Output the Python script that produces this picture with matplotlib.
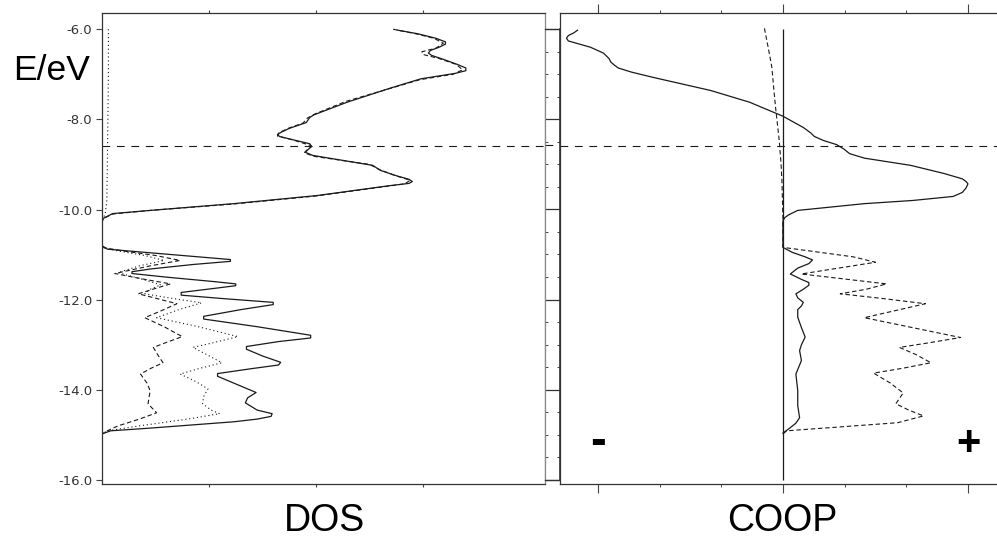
import matplotlib.pyplot as plt
from matplotlib.ticker import FixedLocator, MultipleLocator, NullFormatter

# energies (eV) and DOS / COOP values
fermi = -8.58

dos_tot_E = [-6.02, -6.10, -6.20, -6.28, -6.33, -6.40, -6.47, -6.53, -6.58, -6.66, -6.78, -6.86,
             -6.92, -6.98, -7.10, -7.31, -7.62, -7.90, -7.96, -8.07, -8.20, -8.29, -8.34, -8.38,
             -8.45, -8.54, -8.60, -8.66, -8.73, -8.80, -9.02, -9.13, -9.25, -9.33, -9.38, -9.42,
             -9.47, -9.69, -9.87, -10.02, -10.09, -10.20, -10.30, -10.80, -10.88, -10.95, -11.05,
             -11.11, -11.15, -11.22, -11.32, -11.38, -11.42, -11.50, -11.60, -11.65, -11.69, -11.75,
             -11.84, -11.90, -11.98, -12.06, -12.11, -12.22, -12.37, -12.43, -12.60, -12.79, -12.85,
             -12.93, -13.04, -13.10, -13.25, -13.39, -13.45, -13.53, -13.64, -13.70, -13.80, -13.91,
             -14.06, -14.18, -14.29, -14.45, -14.53, -14.59, -14.65, -14.71, -14.85, -14.91, -14.98,
             -15.05]
dos_tot = [2.76, 2.95, 3.12, 3.21, 3.21, 3.15, 3.07, 3.05, 3.08, 3.18, 3.32, 3.40,
           3.40, 3.30, 2.98, 2.69, 2.29, 1.98, 1.94, 1.91, 1.75, 1.67, 1.64, 1.66,
           1.78, 1.94, 1.96, 1.93, 1.90, 1.97, 2.53, 2.60, 2.75, 2.87, 2.90, 2.87,
           2.69, 2.01, 1.23, 0.45, 0.10, 0.01, 0.0, 0.0, 0.05, 0.40, 0.90,
           1.20, 1.20, 0.85, 0.45, 0.28, 0.28, 0.60, 1.05, 1.25, 1.25, 1.05,
           0.74, 0.74, 1.15, 1.60, 1.60, 1.30, 0.95, 0.95, 1.45, 1.95, 1.95,
           1.65, 1.35, 1.35, 1.50, 1.67, 1.65, 1.40, 1.08, 1.08, 1.18, 1.29,
           1.44, 1.36, 1.34, 1.45, 1.59, 1.58, 1.45, 1.23, 0.45, 0.08, 0.0,
           0.0]

dos_a_E = [-6.00, -6.10, -6.20, -6.31, -6.42, -6.50, -6.56, -6.65, -6.78, -6.90, -7.00, -7.12,
           -7.33, -7.60, -7.88, -7.97, -8.08, -8.20, -8.30, -8.37, -8.46, -8.58, -8.67, -8.74,
           -8.82, -9.00, -9.12, -9.24, -9.35, -9.43, -9.48, -9.70, -9.88, -10.02, -10.10, -10.20,
           -10.30, -10.84, -10.92, -11.02, -11.13, -11.25, -11.42, -11.55, -11.65, -11.75, -11.87,
           -11.98, -12.09, -12.25, -12.40, -12.60, -12.82, -12.95, -13.06, -13.22, -13.40, -13.52,
           -13.65, -13.85, -14.02, -14.31, -14.51, -14.65, -14.80, -14.91, -14.98]
dos_a = [2.72, 2.93, 3.10, 3.19, 3.12, 2.99, 3.00, 3.15, 3.31, 3.37, 3.28, 2.97,
         2.67, 2.28, 1.99, 1.92, 1.88, 1.74, 1.65, 1.64, 1.79, 1.95, 1.92, 1.89,
         1.98, 2.50, 2.60, 2.73, 2.88, 2.83, 2.68, 2.00, 1.22, 0.45, 0.10, 0.01,
         0.0, 0.0, 0.20, 0.50, 0.73, 0.45, 0.12, 0.40, 0.64, 0.50, 0.34,
         0.52, 0.70, 0.55, 0.40, 0.58, 0.75, 0.60, 0.48, 0.52, 0.57, 0.46,
         0.36, 0.42, 0.45, 0.43, 0.51, 0.35, 0.15, 0.05, 0.0]

dos_b_E = [-6.00, -7.00, -8.00, -9.00, -9.80, -10.10, -10.25, -10.84, -10.92, -11.02, -11.13,
           -11.25, -11.40, -11.55, -11.67, -11.77, -11.87, -11.97, -12.07, -12.22, -12.40, -12.60,
           -12.82, -12.95, -13.06, -13.22, -13.40, -13.52, -13.65, -13.82, -13.98, -14.15, -14.31,
           -14.45, -14.53, -14.65, -14.80, -14.91, -14.98]
dos_b = [0.06, 0.06, 0.055, 0.05, 0.045, 0.03, 0.0, 0.0, 0.15, 0.40, 0.58,
         0.35, 0.15, 0.38, 0.55, 0.45, 0.40, 0.65, 0.93, 0.72, 0.51, 0.90,
         1.27, 1.05, 0.85, 0.98, 1.12, 0.92, 0.73, 0.88, 0.99, 0.95, 0.94,
         1.02, 1.10, 0.80, 0.35, 0.05, 0.0]

coop_tot_E = [-6.02, -6.08, -6.14, -6.20, -6.26, -6.33, -6.40, -6.53, -6.65, -6.73, -6.80, -6.86,
              -6.95, -7.07, -7.36, -7.62, -7.93, -8.18, -8.30, -8.38, -8.47, -8.56, -8.66, -8.76,
              -8.86, -9.02, -9.20, -9.32, -9.38, -9.43, -9.52, -9.62, -9.71, -9.80, -9.87, -10.02,
              -10.12, -10.18, -10.25, -10.84, -10.95, -11.05, -11.12, -11.20, -11.30, -11.43, -11.55,
              -11.62, -11.68, -11.77, -11.87, -11.96, -12.06, -12.14, -12.22, -12.39, -12.62, -12.83,
              -13.00, -13.13, -13.35, -13.65, -14.02, -14.35, -14.62, -14.74, -14.84, -14.96]
coop_tot = [-1.11, -1.13, -1.16, -1.17, -1.16, -1.10, -1.04, -0.97, -0.94, -0.93, -0.91, -0.89,
            -0.82, -0.70, -0.39, -0.18, 0.0, 0.11, 0.15, 0.17, 0.22, 0.29, 0.33, 0.36,
            0.44, 0.69, 0.87, 0.97, 0.99, 1.0, 0.99, 0.97, 0.92, 0.70, 0.44, 0.08,
            0.03, 0.01, 0.0, 0.0, 0.05, 0.12, 0.16, 0.14, 0.08, 0.04, 0.10,
            0.14, 0.14, 0.11, 0.07, 0.08, 0.11, 0.10, 0.08, 0.08, 0.10, 0.12,
            0.10, 0.09, 0.10, 0.07, 0.08, 0.08, 0.09, 0.07, 0.04, 0.0]

coop_a_E = [-5.98, -6.40, -6.84, -7.30, -7.73, -8.10, -8.47, -9.00, -9.42, -10.20, -10.84, -10.95,
            -11.05, -11.17, -11.30, -11.43, -11.55, -11.65, -11.77, -11.87, -11.98, -12.09, -12.25,
            -12.40, -12.62, -12.84, -12.95, -13.06, -13.22, -13.40, -13.52, -13.63, -13.85, -14.07,
            -14.31, -14.45, -14.58, -14.73, -14.91, -14.98]
coop_a = [-0.10, -0.08, -0.06, -0.05, -0.04, -0.03, -0.02, -0.01, -0.005, 0.0, 0.0, 0.20,
          0.38, 0.50, 0.30, 0.10, 0.35, 0.56, 0.45, 0.31, 0.55, 0.77, 0.60,
          0.44, 0.70, 0.96, 0.80, 0.63, 0.72, 0.80, 0.65, 0.49, 0.58, 0.65,
          0.61, 0.68, 0.76, 0.62, 0.02, 0.0]

ytick_vals = [-16, -14, -12, -10, -8, -6]
ytick_labels = ['-16.0', '-14.0', '-12.0', '-10.0', '-8.0', '-6.0']

W, H = 997, 539
fig = plt.figure(figsize=(W / 100, H / 100), dpi=100)

def box(x0, y0, x1, y1):
    return [x0 / W, 1 - y1 / H, (x1 - x0) / W, (y1 - y0) / H]

ink = '#1a1a1a'
ylim = (-16.09, -5.64)

# ---- DOS panel
ax1 = fig.add_axes(box(102, 13, 545, 484))
ax1.plot(dos_tot, dos_tot_E, color=ink, lw=0.9)
ax1.plot(dos_a, dos_a_E, color=ink, lw=0.8, dashes=(4, 2.5))
ax1.plot(dos_b, dos_b_E, color=ink, lw=0.8, dashes=(1, 2.5))
ax1.axhline(fermi, color=ink, lw=0.8, dashes=(7, 6))
ax1.set_xlim(0, 4.14)
ax1.set_ylim(*ylim)
ax1.set_yticks(ytick_vals)
ax1.set_yticklabels(ytick_labels)
ax1.set_xticks([1, 2, 3])
ax1.xaxis.set_major_formatter(NullFormatter())
ax1.tick_params(axis='x', direction='out', length=2.5, width=0.8, top=True, bottom=True, color='#444')
ax1.tick_params(axis='y', direction='out', length=4, width=0.8, pad=3, labelsize=9.5,
                labelcolor='#333', color='#444')
for s in ax1.spines.values():
    s.set_linewidth(0.9)
    s.set_color('#333')
ax1.spines['right'].set_color('#888')

# ---- narrow energy scale strip between the panels
ax_s = fig.add_axes(box(545, 29, 560, 480))
ax_s.axhline(fermi, color=ink, lw=0.8, dashes=(7, 6))
ax_s.set_xlim(0, 1)
ax_s.set_ylim(-16, -6)
ax_s.set_xticks([])
ax_s.yaxis.set_major_locator(FixedLocator(ytick_vals))
ax_s.yaxis.set_minor_locator(MultipleLocator(0.5))
ax_s.yaxis.set_major_formatter(NullFormatter())
ax_s.tick_params(axis='y', which='major', direction='in', length=10.8, width=0.9, left=True, right=False,
                 color='#333')
ax_s.tick_params(axis='y', which='minor', direction='in', length=2, width=0.7, left=True, right=True,
                 color='#444')
for s in ax_s.spines.values():
    s.set_linewidth(0.9)
    s.set_color('#333')
ax_s.spines['left'].set_color('#888')
ax_s.spines['right'].set_linewidth(1.2)

# ---- COOP panel
ax2 = fig.add_axes(box(560, 13, 997, 484))
ax2.plot(coop_tot, coop_tot_E, color=ink, lw=0.9)
ax2.plot(coop_a, coop_a_E, color=ink, lw=0.8, dashes=(4, 2.5))
ax2.vlines(0, ytick_vals[0], ytick_vals[-1], color=ink, lw=0.9)
ax2.axhline(fermi, color=ink, lw=0.8, dashes=(7, 6))
ax2.set_xlim(-1.205, 1.157)
ax2.set_ylim(*ylim)
ax2.set_yticks([])
ax2.set_xticks([-1, 0, 1])
ax2.xaxis.set_minor_locator(FixedLocator([-2 / 3, -1 / 3, 1 / 3, 2 / 3]))
ax2.xaxis.set_major_formatter(NullFormatter())
ax2.tick_params(axis='x', which='major', direction='out', length=6.5, width=0.8, top=True, bottom=True,
                color='#444')
ax2.tick_params(axis='x', which='minor', direction='out', length=2, width=0.7, top=True, bottom=True,
                color='#444')
for s in ax2.spines.values():
    s.set_linewidth(0.9)
    s.set_color('#333')
ax2.spines['right'].set_visible(False)
ax2.text(-1.0, -15.15, '-', fontsize=34, fontweight='bold', family='Liberation Sans',
         ha='center', va='center')
ax2.text(1.0, -15.2, '+', fontsize=30, fontweight='bold', family='Liberation Sans',
         ha='center', va='center')

# ---- labels
fig.text(52 / W, 1 - 70 / H, 'E/eV', fontsize=25.5, family='Liberation Sans', ha='center', va='center')
fig.text(324 / W, 1 - 531 / H, 'DOS', fontsize=27, family='Liberation Sans', ha='center', va='baseline')
fig.text(782 / W, 1 - 531 / H, 'COOP', fontsize=27, family='Liberation Sans', ha='center', va='baseline')

fig.savefig('out.png', dpi=100)
